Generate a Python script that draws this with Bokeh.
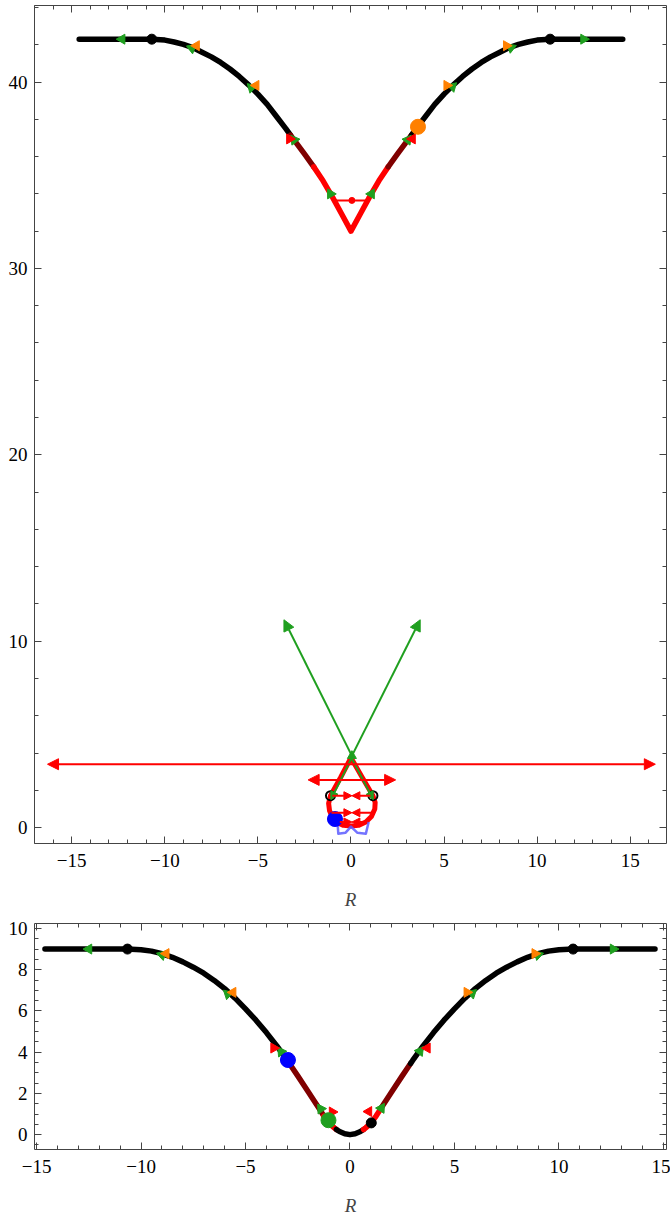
import numpy as np
from bokeh.plotting import figure
from bokeh.layouts import column
from bokeh.models import Range1d, LinearAxis, SingleIntervalTicker, ColumnDataSource, Arrow, NormalHead
from bokeh.embed import file_html
from bokeh.resources import INLINE

# ---------------- data: top panel ----------------
top_R = [-14.6, -13, -12, -11, -10.7, -10, -9.5, -9, -8.5, -8, -7.5, -7, -6.5, -6, -5.5, -5, -4.5, -4,
         -3.5, -3.25, -3, -2.5, -2, -1.5, -1, -0.5, 0, 0.5, 1, 1.5, 2, 2.5, 3, 3.25, 3.5, 4, 4.5, 5,
         5.5, 6, 6.5, 7, 7.5, 8, 8.5, 9, 9.5, 10, 10.7, 11, 12, 13, 14.6]
top_E = [42.3, 42.3, 42.3, 42.3, 42.3, 42.25, 42.15, 42.02, 41.85, 41.6, 41.35, 41.05, 40.7, 40.3,
         39.85, 39.35, 38.8, 38.15, 37.5, 37.15, 36.82, 36.15, 35.45, 34.7, 33.84, 32.92, 32.0,
         32.92, 33.84, 34.7, 35.45, 36.15, 36.82, 37.15, 37.5, 38.15, 38.8, 39.35, 39.85, 40.3,
         40.7, 41.05, 41.35, 41.6, 41.85, 42.02, 42.15, 42.25, 42.3, 42.3, 42.3, 42.3, 42.3]
top_bounds = [-14.6, -3.25, -2.0, 2.0, 3.25, 14.6]
top_kinds = ["stable", "metastable", "unstable", "metastable", "stable"]

top_green_R = [-12.3, -8.55, -5.35, -3.05, -1.1, 1.1, 3.05, 5.45, 8.6, 12.5]
top_green_E = [42.3, 41.82, 39.7, 36.9, 34.0, 34.0, 36.9, 39.75, 41.85, 42.3]
top_orange_R = [-8.3, -5.1, 5.15, 8.35]
top_orange_E = [41.95, 39.82, 39.82, 41.95]
top_red_R = [-3.3, 3.3]
top_red_E = [36.95, 36.95]
top_black_R = [-10.7, 10.7]
top_black_E = [42.3, 42.3]
top_orange_dot_R = [3.6]
top_orange_dot_E = [37.6]

vbar_E = [33.65]
vbar_R0 = [-0.88]
vbar_R1 = [0.97]
vbar_Rc = [0.05]

# drop-shaped loop near the bottom of the top panel
drop_R = [0, -0.55, -1.1, -1.2, -1.15, -1.0, -0.75, -0.4, 0, 0.4, 0.8, 1.1, 1.28, 1.3, 1.18, 0.6, 0]
drop_E = [3.75, 2.7, 1.71, 1.3, 0.9, 0.55, 0.28, 0.12, 0.08, 0.12, 0.3, 0.6, 1.0, 1.35, 1.71, 2.7, 3.75]
drop_ring_R = [-1.1, 1.18]
drop_ring_E = [1.71, 1.71]
drop_blue_R = [-0.86]
drop_blue_E = [0.46]
lb_R = [-0.72, -0.68, -0.3, 0.0, 0.35, 0.8, 0.95]
lb_E = [0.25, -0.33, -0.28, 0.05, -0.28, -0.33, 0.3]

# double-headed red arrows (heads outward)
dbl_E = [3.4, 2.56]
dbl_R0 = [-16.3, -2.3]
dbl_R1 = [16.35, 2.4]
# red "bow-tie" arrows (heads meeting at the centre)
bt_E = [1.71, 0.8, 0.3]
bt_R0 = [-1.0, -1.05, -0.6]
bt_R1 = [1.05, 1.15, 0.7]
bt_Rc = [0.05, 0.05, 0.05]

# green arrows
gl_R0 = [0.05, 0.05]
gl_E0 = [3.85, 3.85]
gl_R1 = [-3.6, 3.72]
gl_E1 = [11.15, 11.15]
gs_R0 = [0.02, 0.05]
gs_E0 = [3.7, 3.7]
gs_R1 = [-1.08, 1.2]
gs_E1 = [1.5, 1.5]

# ---------------- data: bottom panel ----------------
bot_R = [-14.6, -13, -12, -10.7, -10, -9.5, -9, -8.5, -8, -7.5, -7, -6.5, -6, -5.5, -5, -4.5, -4,
         -3.5, -3, -2.9, -2.5, -2, -1.5, -1.25, -1, -0.75, -0.65, -0.5, -0.25, 0, 0.25, 0.5, 0.65,
         0.75, 1, 1.25, 1.5, 2, 2.5, 2.9, 3, 3.5, 4, 4.5, 5, 5.5, 6, 6.5, 7, 7.5, 8, 8.5, 9, 9.5,
         10, 10.7, 12, 13, 14.6]
bot_E = [9.0, 9.0, 9.0, 9.0, 8.97, 8.9, 8.78, 8.6, 8.38, 8.12, 7.83, 7.48, 7.08, 6.62, 6.1, 5.55,
         4.95, 4.3, 3.6, 3.45, 2.85, 2.08, 1.3, 0.9, 0.56, 0.33, 0.25, 0.15, 0.04, 0.0, 0.04, 0.15,
         0.25, 0.33, 0.56, 0.9, 1.3, 2.08, 2.85, 3.45, 3.6, 4.3, 4.95, 5.55, 6.1, 6.62, 7.08, 7.48,
         7.83, 8.12, 8.38, 8.6, 8.78, 8.9, 8.97, 9.0, 9.0, 9.0, 9.0]
bot_bounds = [-14.6, -3.0, -1.25, -0.65, 0.65, 1.5, 2.9, 14.6]
bot_kinds = ["stable", "metastable", "unstable", "stable", "unstable", "metastable", "stable"]

bot_green_R = [-12.5, -9.0, -5.85, -3.3, -1.4, 1.5, 3.35, 5.85, 9.0, 12.6]
bot_green_E = [9.0, 8.72, 6.82, 4.02, 1.25, 1.28, 4.05, 6.85, 8.72, 9.0]
bot_orange_R = [-8.8, -5.6, 5.6, 8.85]
bot_orange_E = [8.78, 6.9, 6.9, 8.78]
bot_red_R = [-3.65, -0.85, 0.9, 3.7]
bot_red_E = [4.2, 1.1, 1.12, 4.2]
bot_black_R = [-10.65, 10.68, 1.02]
bot_black_E = [9.0, 9.0, 0.57]
bot_blue_R = [-2.97]
bot_blue_E = [3.62]
bot_greendot_R = [-1.03]
bot_greendot_E = [0.7]

# ---------------- styles ----------------
KIND_COLOR = {"stable": "black", "metastable": "#800000", "unstable": "#ff0000"}
GREEN = "#1f9f1f"
ORANGE = "#ff8000"
RED = "#ff0000"
AXC = "#444444"
FONT = "Liberation Serif"


def style_axis(ax, labels=True, label=None, standoff=10, label_standoff=19, blank=None):
    ax.axis_line_color = AXC
    ax.major_tick_line_color = AXC
    ax.minor_tick_line_color = AXC
    ax.major_tick_in = 7
    ax.major_tick_out = 0
    ax.minor_tick_in = 4
    ax.minor_tick_out = 0
    if labels:
        ax.major_label_text_font = FONT
        ax.major_label_text_font_size = "19px"
        ax.major_label_text_color = "black"
        ax.major_label_standoff = standoff
    else:
        ax.major_label_overrides = {v: "" for v in blank}
        ax.major_label_text_font_size = "1px"
        ax.major_label_standoff = 0
    if label:
        ax.axis_label = label
        ax.axis_label_text_font = FONT
        ax.axis_label_text_font_style = "italic"
        ax.axis_label_text_font_size = "19px"
        ax.axis_label_standoff = label_standoff


def make_fig(width, height, xr, yr, xint, yint, ynminor, borders):
    p = figure(width=width, height=height, x_range=Range1d(*xr), y_range=Range1d(*yr),
               output_backend="svg", toolbar_location=None,
               min_border_left=borders[0], min_border_right=borders[1],
               min_border_top=borders[2], min_border_bottom=borders[3])
    p.grid.visible = False
    p.outline_line_color = None
    p.background_fill_color = "white"
    p.border_fill_color = "white"
    minus = {v: "\u2212" + str(-v) for v in range(-40, 0)}
    p.xaxis[0].ticker = SingleIntervalTicker(interval=xint, num_minor_ticks=5)
    p.yaxis[0].ticker = SingleIntervalTicker(interval=yint, num_minor_ticks=ynminor)
    p.xaxis[0].major_label_overrides = minus
    style_axis(p.xaxis[0], True, "R", standoff=10, label_standoff=19)
    style_axis(p.yaxis[0], True, None, standoff=7)
    top_ax = LinearAxis(ticker=SingleIntervalTicker(interval=xint, num_minor_ticks=5))
    right_ax = LinearAxis(ticker=SingleIntervalTicker(interval=yint, num_minor_ticks=ynminor))
    style_axis(top_ax, False, blank=list(range(-20, 21, xint)))
    style_axis(right_ax, False, blank=list(range(-10, 51, yint)))
    p.add_layout(top_ax, "above")
    p.add_layout(right_ax, "right")
    return p


def draw_curve(p, R, E, bounds, kinds, width):
    for a, b, k in zip(bounds[:-1], bounds[1:], kinds):
        xs = [r for r in R if a - 1e-9 <= r <= b + 1e-9]
        ys = [e for r, e in zip(R, E) if a - 1e-9 <= r <= b + 1e-9]
        p.line(xs, ys, line_color=KIND_COLOR[k], line_width=width, line_cap="round", line_join="round")


def heads(p, xs, ys, dirs, color, size):
    ang = [float(np.arctan2(dy, dx) - np.pi / 2) for dx, dy in dirs]
    p.scatter(xs, ys, marker="triangle", size=size, angle=ang, fill_color=color, line_color=color)


def curve_markers(p, R, E, gR, gE, oR, oE, rR, rE):
    slope = np.gradient(np.array(E, float), np.array(R, float))
    gd = []
    for r in gR:
        s = 1.0 if r > 0 else -1.0
        m = float(np.interp(r, R, slope))
        gd.append((s, s * m))
    heads(p, gR, gE, gd, GREEN, 10)
    heads(p, oR, oE, [(1.0 if r > 0 else -1.0, 0.0) for r in oR], ORANGE, 10)
    heads(p, rR, rE, [(-1.0 if r > 0 else 1.0, 0.0) for r in rR], RED, 10)


# ---------------- top panel ----------------
top = make_fig(670, 912, (-17.0, 16.95), (-0.853, 44.107), 5, 10, 5, (34, 1, 5, 64))
draw_curve(top, top_R, top_E, top_bounds, top_kinds, 5.5)

# V cross bar
top.segment(vbar_R0, vbar_E, vbar_R1, vbar_E, line_color=RED, line_width=2)
top.scatter(vbar_Rc, vbar_E, size=6, marker="circle", fill_color=RED, line_color=RED)

curve_markers(top, top_R, top_E, top_green_R, top_green_E, top_orange_R, top_orange_E, top_red_R, top_red_E)
top.scatter(top_black_R, top_black_E, size=10, fill_color="black", line_color="black")
top.scatter(top_orange_dot_R, top_orange_dot_E, size=15, fill_color=ORANGE, line_color=ORANGE)

# drop loop
top.line(drop_R, drop_E, line_color=RED, line_width=5, line_join="round", line_cap="round")

# green arrows
gsrc = ColumnDataSource(dict(x0=gl_R0, y0=gl_E0, x1=gl_R1, y1=gl_E1))
top.add_layout(Arrow(end=NormalHead(size=11, fill_color=GREEN, line_color=GREEN), source=gsrc,
                     x_start="x0", y_start="y0", x_end="x1", y_end="y1", line_color=GREEN, line_width=2))
gssrc = ColumnDataSource(dict(x0=gs_R0, y0=gs_E0, x1=gs_R1, y1=gs_E1))
top.add_layout(Arrow(end=NormalHead(size=8, fill_color=GREEN, line_color=GREEN), source=gssrc,
                     x_start="x0", y_start="y0", x_end="x1", y_end="y1", line_color=GREEN, line_width=2))
heads(top, [gl_R0[0]], [gl_E0[0]], [(0.0, 1.0)], GREEN, 9)

# red double arrows
dsrc = ColumnDataSource(dict(x0=dbl_R0, x1=dbl_R1, y=dbl_E))
top.add_layout(Arrow(start=NormalHead(size=11, fill_color=RED, line_color=RED),
                     end=NormalHead(size=11, fill_color=RED, line_color=RED), source=dsrc,
                     x_start="x0", y_start="y", x_end="x1", y_end="y", line_color=RED, line_width=2))
# bow-tie arrows
btl = ColumnDataSource(dict(x0=bt_R0, x1=bt_Rc, y=bt_E))
btr = ColumnDataSource(dict(x0=bt_R1, x1=bt_Rc, y=bt_E))
for src in (btl, btr):
    top.add_layout(Arrow(end=NormalHead(size=8, fill_color=RED, line_color=RED), source=src,
                         x_start="x0", y_start="y", x_end="x1", y_end="y", line_color=RED, line_width=2))

top.scatter(drop_ring_R, drop_ring_E, size=9, fill_color=None, line_color="black", line_width=2)
top.line(lb_R, lb_E, line_color="#5c5cff", line_alpha=0.85, line_width=2.5, line_join="round")
top.scatter(drop_blue_R, drop_blue_E, size=15, fill_color="#0000ff", line_color="#0000ff")

# ---------------- bottom panel ----------------
bot = make_fig(670, 306, (-15.1, 15.15), (-0.72, 10.24), 5, 2, 4, (34, 4, 11, 68))
draw_curve(bot, bot_R, bot_E, bot_bounds, bot_kinds, 5.5)
curve_markers(bot, bot_R, bot_E, bot_green_R, bot_green_E, bot_orange_R, bot_orange_E, bot_red_R, bot_red_E)
bot.scatter(bot_black_R, bot_black_E, size=10, fill_color="black", line_color="black")
bot.scatter(bot_blue_R, bot_blue_E, size=15, fill_color="#0000ff", line_color="#0000ff")
bot.scatter(bot_greendot_R, bot_greendot_E, size=15, fill_color=GREEN, line_color=GREEN)

layout = column(top, bot)
open("out.html", "w").write(file_html(layout, INLINE))
